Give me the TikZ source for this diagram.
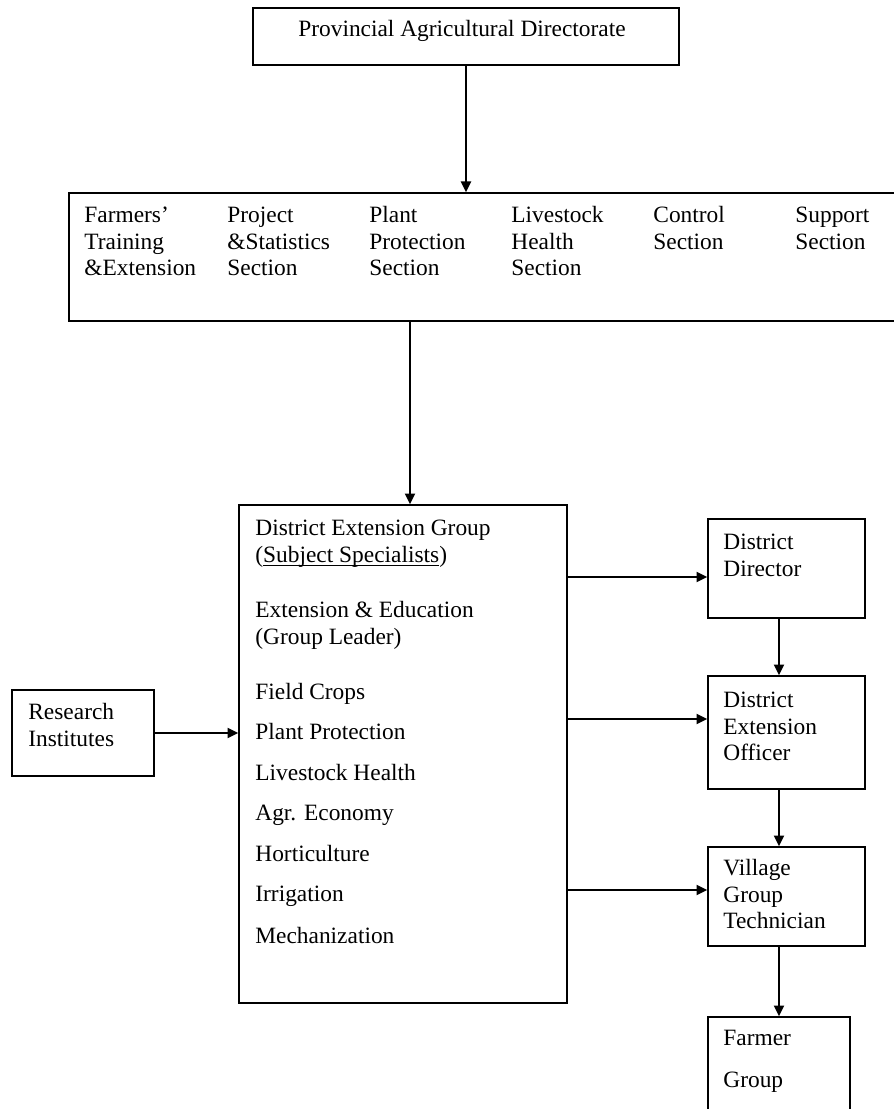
\documentclass[tikz,border=0pt]{standalone}
\usepackage{fontspec}
\setmainfont{Liberation Serif}
\usetikzlibrary{arrows.meta,fit}
\newcommand\wul[1]{\setbox0\hbox{#1}\rlap{\rule[-2.1pt]{\wd0}{0.5pt}}\box0}
\tikzset{
  box/.style={draw, line width=0.8pt, inner sep=0pt},
  txt/.style={inner sep=0pt, anchor=north west, align=left, font=\fontsize{12pt}{13.7pt}\selectfont},
  ltxt/.style={inner sep=0pt, anchor=base west, font=\fontsize{12pt}{13.7pt}\selectfont},
  arr/.style={line width=1pt, -{Triangle[length=5.5pt,width=5.2pt]}},
}
\begin{document}
\begin{tikzpicture}[x=0.513pt, y=-0.513pt]
\useasboundingbox (0,0) rectangle (893,1109);
% boxes
\node[box, fit={(253,8) (679,65)}] (top) {};
\node[box, fit={(69,193) (905,321)}] (sec) {};
\node[box, fit={(239,505) (567,1003)}] (deg) {};
\node[box, fit={(12,690) (154,776)}] (ri) {};
\node[box, fit={(708,519) (865,618)}] (dd) {};
\node[box, fit={(708,676) (865,789)}] (deo) {};
\node[box, fit={(708,847) (865,946)}] (vgt) {};
\node[box, fit={(708,1017) (850,1130)}] (fg) {};
% texts
\node[ltxt, anchor=base] (ttop) at (462,37) {Provincial Agricultural Directorate};
\node[txt] (s1) at (84,203.3) {\strut Farmers'\\\strut Training\\\strut \&Extension};
\node[txt] (s2) at (227,203.3) {\strut Project\\\strut \&Statistics\\\strut Section};
\node[txt] (s3) at (369,203.3) {\strut Plant\\\strut Protection\\\strut Section};
\node[txt] (s4) at (511,203.3) {\strut Livestock\\\strut Health\\\strut Section};
\node[txt] (s5) at (653,203.3) {\strut Control\\\strut Section};
\node[txt] (s6) at (795,203.3) {\strut Support\\\strut Section};
\node[ltxt] (d1) at (255,535) {District Extension Group};
\node[ltxt] (d2) at (255,562) {(\wul{Subject Specialists})};
\node[ltxt] (d3) at (255,617) {Extension \& Education};
\node[ltxt] (d4) at (255,644) {(Group Leader)};
\node[ltxt] (d5) at (255,699) {Field Crops};
\node[ltxt] (d6) at (255,739) {Plant Protection};
\node[ltxt] (d7) at (255,780) {Livestock Health};
\node[ltxt] (d8) at (255,820) {Agr. Economy};
\node[ltxt] (d9) at (255,861) {Horticulture};
\node[ltxt] (d10) at (255,901) {Irrigation};
\node[ltxt] (d11) at (255,943) {Mechanization};
\node[txt] (tri) at (28,700.3) {\strut Research\\\strut Institutes};
\node[txt] (tdd) at (723,530.3) {\strut District\\\strut Director};
\node[txt] (tdeo) at (723,688.3) {\strut District\\\strut Extension\\\strut Officer};
\node[txt] (tvgt) at (723,856.3) {\strut Village\\\strut Group\\\strut Technician};
\node[ltxt] (tfg1) at (723,1045) {Farmer};
\node[ltxt] (tfg2) at (723,1087) {Group};
% helper coordinates
\coordinate (xa) at (410,0);
\coordinate (xb) at (779,0);
\coordinate (ya) at (0,577);
\coordinate (yb) at (0,719);
\coordinate (yc) at (0,890);
% connectors
\draw[arr] (top.south) -- (top.south |- sec.north);
\draw[arr] (sec.south -| xa) -- (deg.north -| xa);
\draw[arr] (ri.east) -- (ri.east -| deg.west);
\draw[arr] (deg.east |- ya) -- (dd.west |- ya);
\draw[arr] (deg.east |- yb) -- (deo.west |- yb);
\draw[arr] (deg.east |- yc) -- (vgt.west |- yc);
\draw[arr] (dd.south -| xb) -- (deo.north -| xb);
\draw[arr] (deo.south -| xb) -- (vgt.north -| xb);
\draw[arr] (vgt.south -| xb) -- (fg.north -| xb);
\end{tikzpicture}
\end{document}
